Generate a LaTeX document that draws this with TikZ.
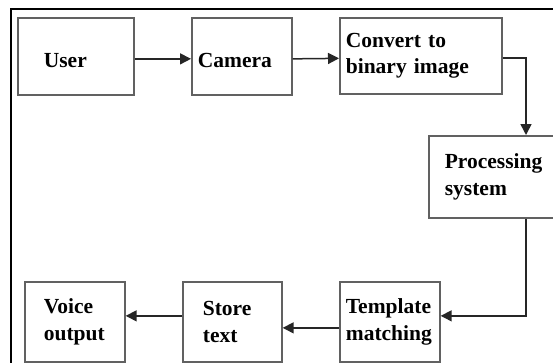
\documentclass[tikz,border=0pt]{standalone}
\usepackage{fontspec}
\setmainfont{Liberation Serif}
\usetikzlibrary{arrows.meta}
\tikzset{
  box/.style={draw=black!62, line width=1.7pt, fill=white, anchor=north west,
    inner ysep=0pt, align=left, font=\bfseries\fontsize{21.5}{26.5}\selectfont},
  arr/.style={draw=black!85, line width=1.5pt, -{Triangle[length=11pt,width=11pt]}},
  frame/.style={draw=black, line width=2.2pt}
}
\begin{document}
\begin{tikzpicture}[x=1pt,y=-1pt]
\clip (0,0) rectangle (553,362);
\fill[white] (0,0) rectangle (553,362);
\draw[frame] (11,370) -- (11,9) -- (560,9);
\node[box, minimum height=77pt, inner xsep=26pt, text width=64pt, text height=22pt] (user) at (17,17) {User};
\node[box, minimum height=77pt, inner xsep=6pt, text width=88pt, text height=22pt] (camera) at (191,17) {Camera};
\node[box, minimum height=76pt, inner xsep=6pt, text width=150pt] (convert) at (339,17) {Convert to\\binary image};
\node[box, minimum height=82pt, inner xsep=16pt, text width=108pt] (proc) at (428,135) {Processing\\system};
\node[box, minimum height=80pt, inner xsep=6pt, text width=88pt] (templ) at (339,281) {Template\\matching};
\node[box, minimum height=80pt, inner xsep=20pt, text width=59pt] (store) at (182,281) {Store\\text};
\node[box, minimum height=80pt, inner xsep=19pt, text width=62pt] (voice) at (24,281) {Voice\\output};
\draw[arr] ([yshift=-2.5pt]user.east) -- ([yshift=-2.5pt]camera.west);
\draw[arr] ([yshift=-2.5pt]camera.east) -- ([yshift=-2.5pt]convert.west);
\draw[arr] ([yshift=-2pt]convert.east) -| ([xshift=98pt]proc.north west);
\draw[arr] ([xshift=98pt]proc.south west) |- ([yshift=6pt]templ.east);
\draw[arr] ([yshift=-6pt]templ.west) -- ([yshift=-6pt]store.east);
\draw[arr] ([yshift=6pt]store.west) -- ([yshift=6pt]voice.east);
\end{tikzpicture}
\end{document}
